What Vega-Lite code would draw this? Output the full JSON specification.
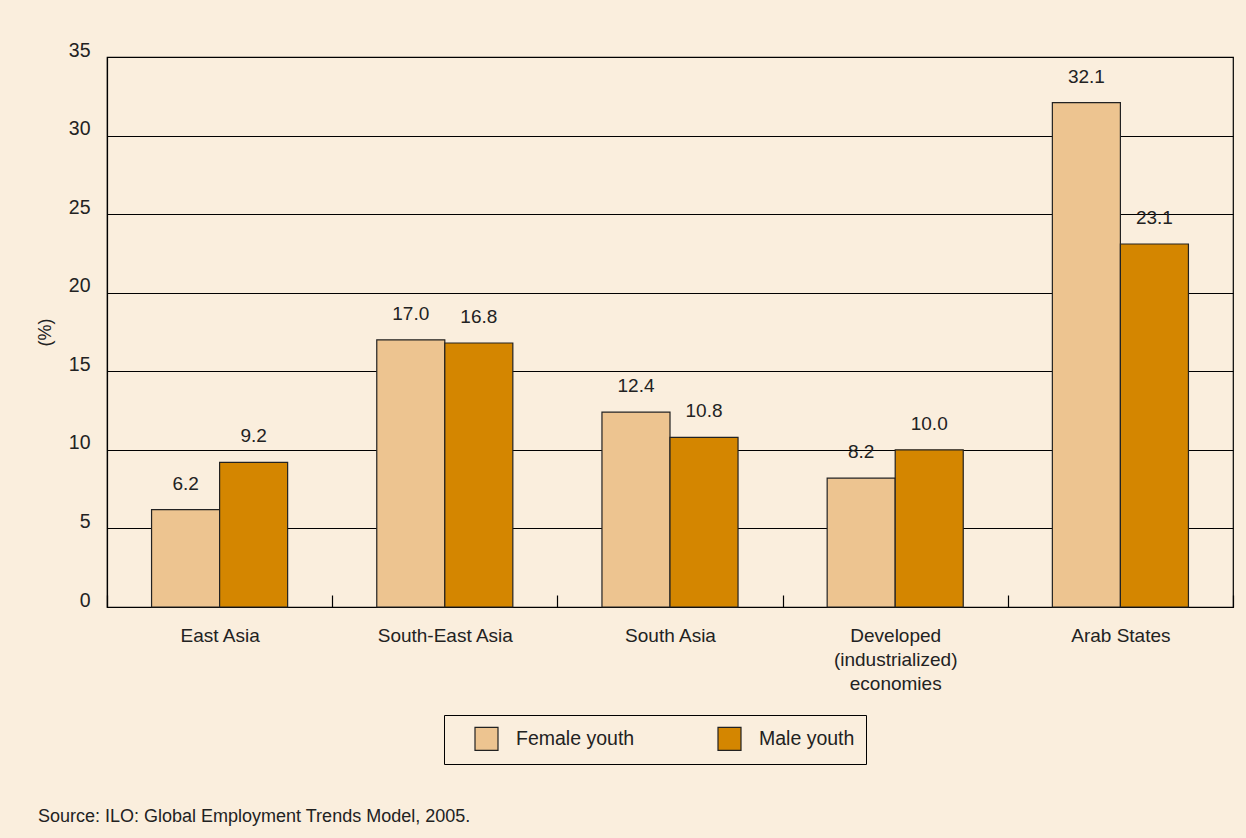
{
  "$schema": "https://vega.github.io/schema/vega-lite/v6.json",
  "width": 1126,
  "height": 550,
  "autosize": {"type": "none"},
  "padding": {"left": 107, "top": 57, "right": 13, "bottom": 231},
  "background": "#FAEEDD",
  "config": {
    "font": "Liberation Sans",
    "view": {"stroke": "#000", "strokeWidth": 1.2, "fill": "#FAEEDD"},
    "axis": {"labelColor": "#222", "titleColor": "#222", "labelFont": "Liberation Sans", "titleFont": "Liberation Sans"}
  },
  "title": {
    "text": "Source: ILO: Global Employment Trends Model, 2005.",
    "orient": "bottom",
    "anchor": "start",
    "frame": "group",
    "fontSize": 18,
    "fontWeight": "normal",
    "color": "#222",
    "dx": -69,
    "offset": 43
  },
  "data": {
    "values": [
      {"region": "East Asia", "group": "Female youth", "value": 6.2},
      {"region": "East Asia", "group": "Male youth", "value": 9.2},
      {"region": "South-East Asia", "group": "Female youth", "value": 17.0},
      {"region": "South-East Asia", "group": "Male youth", "value": 16.8},
      {"region": "South Asia", "group": "Female youth", "value": 12.4},
      {"region": "South Asia", "group": "Male youth", "value": 10.8},
      {"region": "Developed (industrialized) economies", "group": "Female youth", "value": 8.2},
      {"region": "Developed (industrialized) economies", "group": "Male youth", "value": 10.0},
      {"region": "Arab States", "group": "Female youth", "value": 32.1},
      {"region": "Arab States", "group": "Male youth", "value": 23.1}
    ]
  },
  "encoding": {
    "x": {
      "field": "region",
      "type": "nominal",
      "sort": null,
      "scale": {"paddingInner": 0, "paddingOuter": 0},
      "axis": {
        "title": null,
        "labelAngle": 0,
        "labelFontSize": 19,
        "labelPadding": 31,
        "labelBaseline": "top",
        "labelLineHeight": 24,
        "labelExpr": "datum.value == 'Developed (industrialized) economies' ? ['Developed', '(industrialized)', 'economies'] : datum.label",
        "tickBand": "extent",
        "tickSize": -12,
        "tickColor": "#000",
        "tickWidth": 1.2,
        "domainColor": "#000",
        "domainWidth": 1.2
      }
    },
    "xOffset": {
      "field": "group",
      "type": "nominal",
      "scale": {"paddingInner": 0, "paddingOuter": 0.655}
    },
    "y": {
      "field": "value",
      "type": "quantitative",
      "scale": {"domain": [0, 35]},
      "axis": {
        "title": "(%)",
        "titleFontSize": 18,
        "titleFontWeight": "normal",
        "titlePadding": 14,
        "values": [0, 5, 10, 15, 20, 25, 30, 35],
        "labelFontSize": 19.5,
        "labelPadding": 17,
        "labelBaseline": "alphabetic",
        "labelOffset": -1,
        "ticks": false,
        "grid": true,
        "gridColor": "#000",
        "gridWidth": 1.2,
        "gridOpacity": 1,
        "domainColor": "#000",
        "domainWidth": 1.2
      }
    }
  },
  "layer": [
    {
      "mark": {"type": "bar", "stroke": "#222", "strokeWidth": 1.2},
      "encoding": {
        "color": {
          "field": "group",
          "type": "nominal",
          "scale": {"domain": ["Female youth", "Male youth"], "range": ["#EDC490", "#D48600"]},
          "legend": {
            "title": null,
            "orient": "none",
            "legendX": 337,
            "legendY": 658,
            "direction": "horizontal",
            "symbolType": "square",
            "symbolSize": 529,
            "symbolStrokeColor": "#222",
            "symbolStrokeWidth": 1.2,
            "labelFontSize": 19.5,
            "labelColor": "#222",
            "labelOffset": 17,
            "columnPadding": 63,
            "padding": 11,
            "symbolOffset": 19,
            "strokeColor": "#000",
            "fillColor": "#FAEEDD"
          }
        }
      }
    },
    {
      "mark": {"type": "text", "baseline": "bottom", "dy": -16, "fontSize": 19, "color": "#222"},
      "encoding": {
        "text": {"field": "value", "type": "quantitative", "format": ".1f"}
      }
    }
  ]
}
